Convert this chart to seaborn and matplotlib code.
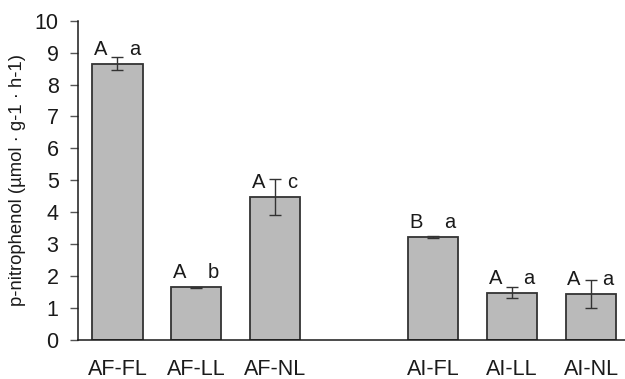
import matplotlib
matplotlib.use("Agg")
import matplotlib.pyplot as plt
import seaborn as sns
import pandas as pd

# Enzyme activity per treatment
categories = ["AF-FL", "AF-LL", "AF-NL", "AI-FL", "AI-LL", "AI-NL"]
means = [8.65, 1.65, 4.47, 3.23, 1.48, 1.45]
errors = [0.20, 0.02, 0.57, 0.02, 0.17, 0.44]
upper_letters = ["A", "A", "A", "B", "A", "A"]
lower_letters = ["a", "b", "c", "a", "a", "a"]
# a blank slot separates the AF and AI groups
order = ["AF-FL", "AF-LL", "AF-NL", " ", "AI-FL", "AI-LL", "AI-NL"]
y_ticks = list(range(0, 11))

sns.set_theme(style="ticks")
plt.rcParams["font.family"] = ["Liberation Sans", "DejaVu Sans"]

df = pd.DataFrame({"treatment": categories, "activity": means})

fig = plt.figure(figsize=(6.25, 3.79), dpi=100)
ax = fig.add_axes([78 / 625, 1 - 340 / 379, (630.5 - 78) / 625, (340 - 20.7) / 379])

sns.barplot(data=df, x="treatment", y="activity", order=order, ax=ax,
            color="#bababa", saturation=1, width=0.635, errorbar=None,
            edgecolor="#333333", linewidth=1.3)

pos = {c: order.index(c) for c in categories}
xs = [pos[c] for c in categories]
ax.errorbar(xs, means, yerr=errors, fmt="none", ecolor="#333333",
            elinewidth=1.0, capsize=4, capthick=1.0, zorder=5)

# significance letters: upper-case left, lower-case right, just above each bar
for x, m, up, lo in zip(xs, means, upper_letters, lower_letters):
    ax.annotate(up, xy=(x, m), xytext=(-12.2, 6.5), textcoords="offset points",
                ha="center", va="baseline", fontsize=14.5, color="#1a1a1a")
    ax.annotate(lo, xy=(x, m), xytext=(12.2, 6.5), textcoords="offset points",
                ha="center", va="baseline", fontsize=14.5, color="#1a1a1a")

ax.set_ylim(0, 10)
ax.set_xlim(-0.5, 6.5)
ax.set_yticks(y_ticks)
ax.set_yticklabels([str(t) for t in y_ticks])
ax.set_xlabel("")
ax.set_ylabel("p-nitrophenol (µmol · g-1 · h-1)", fontsize=13.3, color="#1a1a1a", labelpad=6)

ax.tick_params(axis="y", length=6, width=1, color="#555555", labelsize=15.5,
               labelcolor="#1a1a1a", pad=8)
ax.tick_params(axis="x", length=0, labelsize=15.5, labelcolor="#1a1a1a", pad=13.5)

sns.despine(ax=ax, top=True, right=True)
for side in ("left", "bottom"):
    ax.spines[side].set_color("#1a1a1a")
    ax.spines[side].set_linewidth(1.1)

fig.savefig("out.png", dpi=100)
